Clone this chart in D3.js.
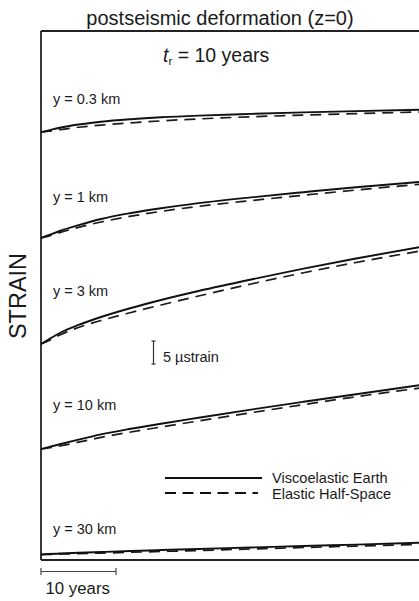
<!DOCTYPE html>
<html>
<head>
<meta charset="utf-8">
<script src="https://cdn.jsdelivr.net/npm/d3@7"></script>
<style>
  html, body { margin: 0; padding: 0; background: #fff; }
  svg { display: block; }
  text { font-family: "Liberation Sans", Arial, Helvetica, sans-serif; fill: #1a1a1a; }
</style>
</head>
<body>
<svg id="chart" width="419" height="601"></svg>
<script>
// ---------------- DATA ----------------
// time since earthquake (years)
const times = [0, 1, 2.5, 5, 8, 12, 16, 21, 28, 35, 42, 51];
// distance labels for each curve pair
const depthLabels = ["y = 0.3 km", "y = 1 km", "y = 3 km", "y = 10 km", "y = 30 km"];
// vertical stacking offset of each curve pair (microstrain)
const offsets = [93.0, 70.0, 46.96, 24.13, 1.2];
// postseismic strain change (microstrain), viscoelastic earth
const visco03 = [0, 0.39, 0.96, 1.67, 2.28, 2.83, 3.24, 3.61, 3.98, 4.30, 4.59, 4.91];
const visco1  = [0, 0.61, 1.52, 2.78, 4.13, 5.43, 6.48, 7.57, 8.83, 9.96, 11.04, 12.24];
const visco3  = [0, 0.98, 2.39, 4.13, 5.87, 7.83, 9.57, 11.52, 14.02, 16.37, 18.59, 21.20];
const visco10 = [0, 0.41, 1.04, 2.04, 3.17, 4.39, 5.50, 6.80, 8.57, 10.26, 11.91, 14.00];
const visco30 = [0, 0.09, 0.20, 0.37, 0.54, 0.76, 0.96, 1.20, 1.52, 1.85, 2.15, 2.57];
// postseismic strain change (microstrain), elastic half-space
const elastic03 = [0, 0.20, 0.57, 1.07, 1.54, 2.04, 2.46, 2.89, 3.35, 3.72, 4.04, 4.41];
const elastic1  = [0, 0.39, 1.17, 2.30, 3.48, 4.74, 5.78, 6.87, 8.13, 9.30, 10.43, 11.74];
const elastic3  = [0, 0.70, 1.96, 3.59, 5.11, 6.85, 8.48, 10.43, 13.04, 15.48, 17.72, 20.33];
const elastic10 = [0, 0.22, 0.65, 1.48, 2.52, 3.70, 4.78, 6.09, 7.89, 9.65, 11.37, 13.35];
const elastic30 = [0, 0.02, 0.09, 0.20, 0.30, 0.48, 0.65, 0.87, 1.20, 1.52, 1.83, 2.22];
const seriesNames = ["Viscoelastic Earth", "Elastic Half-Space"];
const titleText = "postseismic deformation (z=0)";
const timeBar = 10;      // years
const strainBar = 5;     // microstrain
const strainBarAt = 42.6;

// ---------------- LAYOUT ----------------
(function () {
const svg = d3.select("#chart");
const mLeft = 41, mTop = 31, mBottom = 560;
const x = d3.scaleLinear().domain([0, 50]).range([mLeft, 416]);
const y = d3.scaleLinear().domain([0, 115]).range([mBottom, mTop]);

const visco = [visco03, visco1, visco3, visco10, visco30];
const elastic = [elastic03, elastic1, elastic3, elastic10, elastic30];

// frame (open on the right)
const frame = svg.append("g").attr("stroke", "#222").attr("stroke-width", 1.8).attr("fill", "none");
frame.append("line").attr("x1", mLeft).attr("x2", 430).attr("y1", mTop).attr("y2", mTop);
frame.append("line").attr("x1", mLeft).attr("x2", mLeft).attr("y1", mTop).attr("y2", mBottom);
frame.append("line").attr("x1", mLeft).attr("x2", 430).attr("y1", mBottom).attr("y2", mBottom);

// title
svg.append("text").attr("x", 220).attr("y", 25).attr("text-anchor", "middle")
  .attr("font-size", 20).text(titleText);

// t_r = 10 years
const tr = svg.append("text").attr("x", 163).attr("y", 62).attr("font-size", 19.5);
tr.append("tspan").attr("font-style", "italic").text("t");
tr.append("tspan").attr("font-size", 11.5).attr("dy", 3).text("r");
tr.append("tspan").attr("dy", -3).text(" = 10 years");

// STRAIN label
svg.append("text").attr("transform", "translate(26,296) rotate(-90)")
  .attr("text-anchor", "middle").attr("font-size", 23.5).text("STRAIN");

// curves
const line = (vals, k) => d3.line()
  .x((d, i) => x(times[i]))
  .y(d => y(d + offsets[k]))
  .curve(d3.curveMonotoneX)(vals);

const labelY = [103.5, 202, 296, 410, 534];
depthLabels.forEach((lab, k) => {
  svg.append("path").attr("d", line(elastic[k], k))
    .attr("fill", "none").attr("stroke", "#1a1a1a").attr("stroke-width", 1.7)
    .attr("stroke-dasharray", "11,7");
  svg.append("path").attr("d", line(visco[k], k))
    .attr("fill", "none").attr("stroke", "#111").attr("stroke-width", 1.9);
  svg.append("text").attr("x", 53).attr("y", labelY[k]).attr("font-size", 14.5).text(lab);
});

// strain scale bar
const sb = svg.append("g").attr("stroke", "#333").attr("stroke-width", 1.2);
const sx = 153.5;
sb.append("line").attr("x1", sx).attr("x2", sx).attr("y1", y(strainBarAt)).attr("y2", y(strainBarAt + strainBar));
sb.append("line").attr("x1", sx - 2).attr("x2", sx + 2).attr("y1", y(strainBarAt)).attr("y2", y(strainBarAt));
sb.append("line").attr("x1", sx - 2).attr("x2", sx + 2).attr("y1", y(strainBarAt + strainBar)).attr("y2", y(strainBarAt + strainBar));
svg.append("text").attr("x", 163).attr("y", 361.5).attr("font-size", 14.5).text(strainBar + " \u00b5strain");

// time scale bar
const tb = svg.append("g").attr("stroke", "#444").attr("stroke-width", 1.2);
const ty = 571.5;
tb.append("line").attr("x1", x(0)).attr("x2", x(timeBar)).attr("y1", ty).attr("y2", ty);
tb.append("line").attr("x1", x(0)).attr("x2", x(0)).attr("y1", ty - 3.5).attr("y2", ty + 3.5);
tb.append("line").attr("x1", x(timeBar)).attr("x2", x(timeBar)).attr("y1", ty - 3.5).attr("y2", ty + 3.5);
svg.append("text").attr("x", 45.5).attr("y", 594).attr("font-size", 16.8).text(timeBar + " years");

// legend
const lg = svg.append("g");
lg.append("line").attr("x1", 165).attr("x2", 262).attr("y1", 478).attr("y2", 478)
  .attr("stroke", "#111").attr("stroke-width", 1.8);
lg.append("line").attr("x1", 165).attr("x2", 258).attr("y1", 493).attr("y2", 493)
  .attr("stroke", "#111").attr("stroke-width", 1.8).attr("stroke-dasharray", "11,6.5");
lg.append("text").attr("x", 272).attr("y", 483).attr("font-size", 14.6).text(seriesNames[0]);
lg.append("text").attr("x", 272).attr("y", 498.5).attr("font-size", 14.6).text(seriesNames[1]);
})();
</script>
</body>
</html>
